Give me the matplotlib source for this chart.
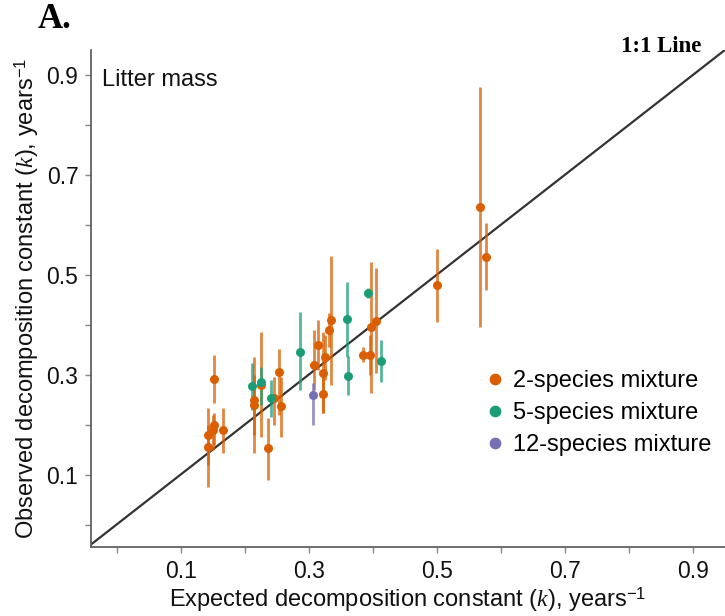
import matplotlib
matplotlib.use("Agg")
import matplotlib.pyplot as plt
import numpy as np

plt.rcParams['font.family'] = ['Liberation Sans', 'DejaVu Sans']
plt.rcParams['mathtext.fontset'] = 'custom'
plt.rcParams['mathtext.rm'] = 'Liberation Sans'
plt.rcParams['mathtext.it'] = 'Liberation Serif:italic'

# 2-species mixtures: expected k, observed k, lower, upper
two_x = [0.567, 0.577, 0.500, 0.152, 0.142, 0.142, 0.152, 0.150, 0.166, 0.214,
         0.214, 0.225, 0.236, 0.245, 0.253, 0.256, 0.308, 0.314, 0.322, 0.322,
         0.325, 0.334, 0.331, 0.397, 0.405, 0.384, 0.395]
two_y = [0.636, 0.536, 0.480, 0.292, 0.180, 0.156, 0.200, 0.190, 0.190, 0.250,
         0.240, 0.280, 0.154, 0.254, 0.306, 0.238, 0.320, 0.360, 0.304, 0.262,
         0.335, 0.410, 0.390, 0.396, 0.408, 0.340, 0.340]
two_lo = [0.396, 0.470, 0.406, 0.244, 0.120, 0.076, 0.160, 0.150, 0.144, 0.144,
          0.180, 0.176, 0.090, 0.200, 0.220, 0.176, 0.270, 0.310, 0.224, 0.224,
          0.290, 0.280, 0.356, 0.264, 0.304, 0.325, 0.300]
two_hi = [0.876, 0.604, 0.552, 0.340, 0.234, 0.200, 0.224, 0.220, 0.234, 0.336,
          0.300, 0.386, 0.214, 0.296, 0.352, 0.296, 0.390, 0.410, 0.386, 0.300,
          0.380, 0.538, 0.424, 0.526, 0.514, 0.355, 0.380]

# 5-species mixtures
five_x = [0.211, 0.225, 0.241, 0.286, 0.359, 0.362, 0.392, 0.413]
five_y = [0.278, 0.286, 0.254, 0.346, 0.412, 0.298, 0.464, 0.328]
five_lo = [0.230, 0.240, 0.216, 0.270, 0.336, 0.260, 0.454, 0.286]
five_hi = [0.324, 0.316, 0.290, 0.426, 0.486, 0.338, 0.474, 0.370]

# 12-species mixture
twelve_x = [0.306]
twelve_y = [0.260]
twelve_lo = [0.200]
twelve_hi = [0.284]

series = [
    ("2-species mixture", "#D95F02", two_x, two_y, two_lo, two_hi),
    ("5-species mixture", "#1B9E77", five_x, five_y, five_lo, five_hi),
    ("12-species mixture", "#7570B3", twelve_x, twelve_y, twelve_lo, twelve_hi),
]

ticks = [0.0, 0.1, 0.2, 0.3, 0.4, 0.5, 0.6, 0.7, 0.8, 0.9]
tick_labels = ["", "0.1", "", "0.3", "", "0.5", "", "0.7", "", "0.9"]

fig = plt.figure(figsize=(7.25, 6.16), dpi=100)
ax = fig.add_axes([0.1255, 0.112, 0.8745, 0.807])

ax.axline((0, 0), slope=1, color="#333333", lw=1.6, zorder=1)

handles = []
for name, col, x, y, lo, hi in series:
    x = np.array(x); y = np.array(y)
    yerr = np.vstack([y - np.array(lo), np.array(hi) - y])
    ax.errorbar(x, y, yerr=yerr, fmt="none", ecolor=col, elinewidth=2.0,
                alpha=0.75, capsize=0, zorder=2)
    h = ax.plot(x, y, "o", color=col, markersize=6.5, markeredgewidth=0,
                zorder=3, label=name)[0]
    handles.append(h)

ax.set_xlim(-0.04, 0.95)
ax.set_ylim(-0.045, 0.95)
ax.set_xticks(ticks)
ax.set_xticklabels(tick_labels)
ax.set_yticks(ticks)
ax.set_yticklabels(tick_labels)
ax.tick_params(direction="out", length=4, width=1, labelsize=16.5, pad=5)
ax.tick_params(axis="x", colors="#888888", labelcolor="#111111")
ax.tick_params(axis="y", colors="#888888", labelcolor="#111111")
for s in ["top", "right"]:
    ax.spines[s].set_visible(False)
ax.spines["left"].set_color("#555555")
ax.spines["bottom"].set_color("#555555")
ax.spines["left"].set_linewidth(1.2)
ax.spines["bottom"].set_linewidth(1.2)

ax.set_xlabel(r"Expected decomposition constant ($\mathit{k}$), years$^{-1}$",
              fontsize=17, labelpad=2, color="#111111")
ax.set_ylabel(r"Observed decomposition constant ($\mathit{k}$), years$^{-1}$",
              fontsize=17, labelpad=4, color="#111111")

ax.text(0.018, 0.962, "Litter mass", transform=ax.transAxes, fontsize=17,
        va="top", ha="left", color="#111111")
fig.text(0.968, 0.908, "1:1 Line", fontsize=16.5, fontweight="bold",
         family="Liberation Serif", ha="right", va="bottom")
fig.text(0.052, 0.942, "A.", fontsize=25, fontweight="bold",
         family="Liberation Serif", ha="left", va="bottom")

leg = ax.legend(handles=handles, loc="lower left", bbox_to_anchor=(0.585, 0.14),
                frameon=False, fontsize=17, handletextpad=0.25, handlelength=1.0,
                labelspacing=0.42, markerscale=1.3)

fig.savefig("out.png", dpi=100)
